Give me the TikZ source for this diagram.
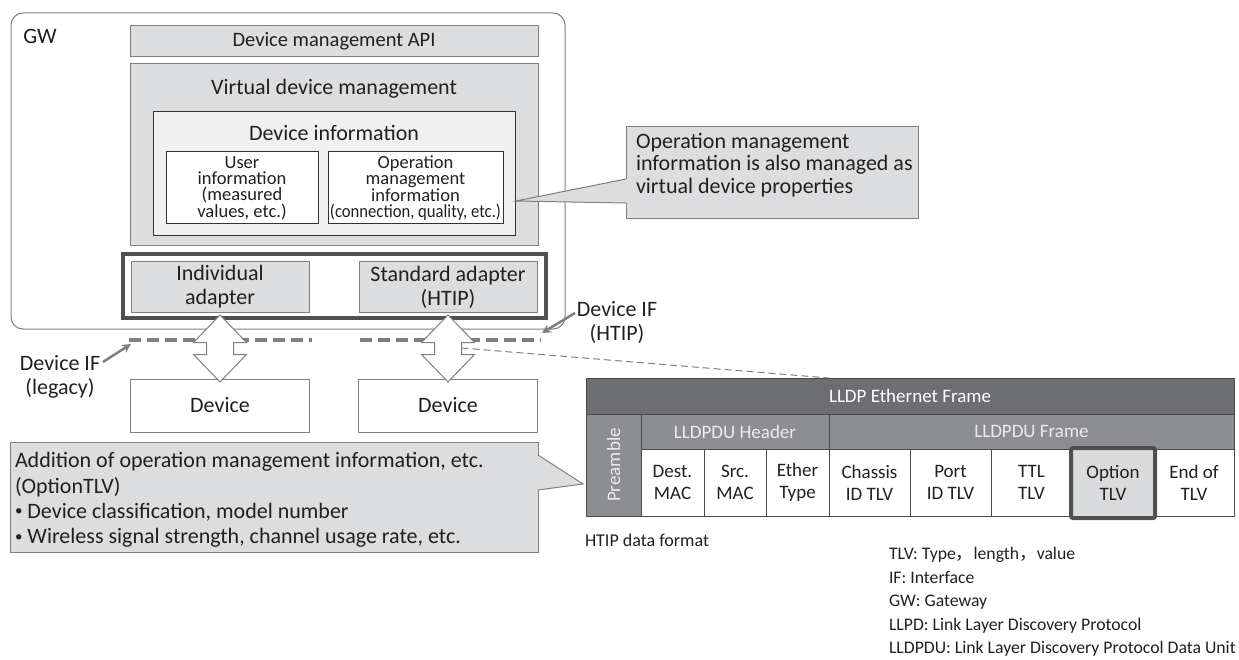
\documentclass[tikz,border=0pt]{standalone}
\usepackage{fontspec}
\setmainfont{Carlito}
\newfontfamily\cjkfont{Noto Sans CJK JP}
\usetikzlibrary{calc,arrows.meta}

\definecolor{ink}{HTML}{231F20}
\definecolor{panel}{HTML}{DCDDDE}
\definecolor{infofill}{HTML}{F0F0F0}
\definecolor{rim}{HTML}{7F7F7F}
\definecolor{darkrim}{HTML}{333333}
\definecolor{thickrim}{HTML}{505050}
\definecolor{hdrfill}{HTML}{6D6E71}
\definecolor{subfill}{HTML}{8D8E91}
\definecolor{cellrim}{HTML}{4A4A4A}
\definecolor{optfill}{HTML}{DADBDC}
\definecolor{paletext}{HTML}{ECECEC}

\newcommand\fs[2]{\fontsize{#1}{#2}\selectfont}
\newcommand\smallbullet{\raisebox{2.5pt}{\fontsize{15}{15}\selectfont\textbullet}}
% double-headed block arrow hanging from its upper tip
\newcommand\dblarrow[1]{%
  \draw[blockarrow] (#1) -- ++(26.5,27.5) -- ++(-13,0) -- ++(0,12) -- ++(13,0)
    -- ++(-26.5,27.5) -- ++(-26.5,-27.5) -- ++(13,0) -- ++(0,-12) -- ++(-13,0) -- cycle;}

\begin{document}
\begin{tikzpicture}[x=1pt,y=-1pt,
  box/.style={draw=rim, line width=1pt, inner sep=0pt, outer sep=0pt, text=ink, align=center},
  panelbox/.style={box, fill=panel},
  infobox/.style={box, draw=darkrim, fill=infofill},
  leafbox/.style={box, draw=darkrim, fill=white, font=\fs{18.5}{16.3}},
  mainfont/.style={font=\fs{22}{24}},
  plain/.style={inner sep=0pt, outer sep=0pt, text=ink},
  blockarrow/.style={draw=rim, line width=1pt, fill=white, line join=miter},
  ifdash/.style={draw=rim, line width=4pt, dash pattern=on 12pt off 6pt},
  ifarrow/.style={draw=rim, line width=2.5pt, -{Stealth[length=9pt,width=9pt]}},
  calloutfill/.style={fill=panel},
  callout/.style={draw=rim, line width=1pt},
  hdrcell/.style={draw=cellrim, line width=1pt, fill=hdrfill, text=white, inner sep=0pt, outer sep=0pt, font=\fs{19}{22}},
  subcell/.style={draw=cellrim, line width=1pt, fill=subfill, text=paletext, inner sep=0pt, outer sep=0pt, font=\fs{19}{22}},
  cell/.style={draw=cellrim, line width=1pt, fill=white, text=ink, inner sep=0pt, outer sep=0pt, align=center, font=\fs{19}{22}, minimum height=67pt},
  optframe/.style={draw=thickrim, line width=4pt, rounded corners=2pt}
]
\useasboundingbox (0,0) rectangle (1239,660);

% ---- gateway ----
\node[draw=rim, line width=1pt, rounded corners=12pt, minimum width=554pt, minimum height=316pt] (gw) at (288,171) {};
\node[plain, mainfont] (gwlabel) at (40,36) {GW};

\node[panelbox, minimum width=408pt, minimum height=31pt, font=\fs{20.5}{24}] (api) at (334,41.5) {Device management API};
\node[panelbox, minimum width=408pt, minimum height=182pt] (virt) at (334,155) {};
\node[plain, mainfont] (virtlabel) at (334,89) {Virtual device management};
\node[infobox, minimum width=362pt, minimum height=124pt] (devinfo) at (334,174) {};
\node[plain, mainfont] (devinfolabel) at (334,133) {Device information};
\node[leafbox, minimum width=152pt, minimum height=72pt] (user) at (242,188)
  {User\\information\\(measured\\values, etc.)};
\node[leafbox, minimum width=175pt, minimum height=72pt] (opm) at (415.5,188)
  {Operation\\management\\information\\\scalebox{0.9}[1]{(connection, quality, etc.)}};

% ---- callout on the right ----
\node[panelbox, minimum width=292pt, minimum height=92pt] (note1) at (772,173) {};
\node[plain, mainfont, align=left, anchor=west, font=\fs{22}{22.5}] (note1text) at (636,165)
  {Operation management\\information is also managed as\\virtual device properties};
\coordinate (note1tip) at ($(devinfo.east)+(1,27)$);
\coordinate (note1a) at ($(note1.north west)+(0,52)$);
\coordinate (note1b) at ($(note1.north west)+(0,76)$);
\fill[calloutfill] ($(note1a)+(1.5,0)$) -- (note1tip) -- ($(note1b)+(1.5,0)$) -- cycle;
\draw[callout] (note1a) -- (note1tip) -- (note1b);

% ---- adapters ----
\node[draw=thickrim, line width=4.5pt, minimum width=423pt, minimum height=64pt, inner sep=0pt] (adapters) at (334.5,286) {};
\node[panelbox, mainfont, minimum width=178pt, minimum height=50pt] (indiv) at (220,287) {Individual\\adapter};
\node[panelbox, mainfont, minimum width=178pt, minimum height=50pt] (std) at (448,287) {Standard adapter\\(HTIP)};

% ---- device interfaces ----
\coordinate (legA) at (129,340);
\coordinate (legB) at (312,340);
\coordinate (htipA) at (360,340);
\coordinate (htipB) at (541,340);
\draw[ifdash] (legA) -- (legB);
\draw[ifdash] (htipA) -- (htipB);

\node[box, fill=white, mainfont, minimum width=179pt, minimum height=53pt] (dev1) at (220,405.5) {Device};
\node[box, fill=white, mainfont, minimum width=179pt, minimum height=53pt] (dev2) at (448,405.5) {Device};

\coordinate (arrL) at ($(indiv.south)+(0,3)$);
\coordinate (arrR) at ($(std.south)+(0,3)$);
\dblarrow{arrL}
\dblarrow{arrR}

\node[plain, mainfont, align=center, font=\fs{22}{24}] (leglabel) at (60,377) {Device IF\\(legacy)};
\coordinate (legfrom) at (103,362);
\coordinate (legto) at (131,344);
\draw[ifarrow] (legfrom) -- (legto);

\node[plain, mainfont, align=center, font=\fs{22}{24}] (htiplabel) at (617,322) {Device IF\\(HTIP)};
\coordinate (htipfrom) at (575,313);
\coordinate (htipto) at (542,333);
\draw[ifarrow] (htipfrom) -- (htipto);

% ---- HTIP frame layout ----
\node[hdrcell, minimum width=648pt, minimum height=36pt] (frame) at (910,396) {LLDP Ethernet Frame};
\node[subcell, rotate=90, minimum width=102pt, minimum height=55pt] (pre) at (613.5,465) {Preamble};
\node[subcell, minimum width=188pt, minimum height=35pt] (lhdr) at (735,431.5) {LLDPDU Header};
\node[subcell, minimum width=405pt, minimum height=35pt] (lfrm) at (1031.5,431.5) {LLDPDU Frame};
\node[cell, minimum width=63pt] (dest) at (672.5,482.5) {Dest.\\MAC};
\node[cell, minimum width=62pt] (src) at (735,482.5) {Src.\\MAC};
\node[cell, minimum width=63pt] (eth) at (797.5,482.5) {Ether\\Type};
\node[cell, minimum width=81pt] (chassis) at (869.5,482.5) {Chassis\\ID TLV};
\node[cell, minimum width=81pt] (port) at (950.5,482.5) {Port\\ID TLV};
\node[cell, minimum width=81pt] (ttl) at (1031.5,482.5) {TTL\\TLV};
\node[cell, minimum width=82pt, fill=optfill] (opt) at (1113,482.5) {Option\\TLV};
\node[cell, minimum width=80pt] (eot) at (1194,482.5) {End of\\TLV};
\draw[optframe] ($(opt.north west)+(-1,-1)$) rectangle ($(opt.south east)+(1,2)$);

\draw[draw=rim, line width=1pt, dash pattern=on 7pt off 4pt]
  ($(arrR)+(13.5,33)$) -- (frame.north -| lhdr.east);

\node[plain, anchor=west, font=\fs{18}{22}] (fmtlabel) at (585,540) {HTIP data format};

% ---- callout below ----
\node[panelbox, minimum width=528pt, minimum height=110pt] (note2) at (274,497) {};
\node[plain, align=left, anchor=west, font=\fs{22}{25.3}] (note2text) at (15,500)
  {Addition of operation management information, etc.\\(OptionTLV)\\%
   \smallbullet\ Device classification, model number\\%
   \smallbullet\ Wireless signal strength, channel usage rate, etc.};
\coordinate (note2tip) at ($(frame.south west)+(-3,70)$);
\coordinate (note2a) at ($(note2.north east)+(0,13)$);
\coordinate (note2b) at ($(note2.north east)+(0,48)$);
\fill[calloutfill] ($(note2a)+(-1.5,0)$) -- (note2tip) -- ($(note2b)+(-1.5,0)$) -- cycle;
\draw[callout] (note2a) -- (note2tip) -- (note2b);

% ---- abbreviations ----
\node[plain, align=left, anchor=west, font=\fs{17.7}{23.5}] (legend) at (889,602)
  {TLV: Type{\cjkfont ，}length{\cjkfont ，}value\\
   IF: Interface\\
   GW: Gateway\\
   LLPD: Link Layer Discovery Protocol\\
   LLDPDU: Link Layer Discovery Protocol Data Unit};
\end{tikzpicture}
\end{document}
